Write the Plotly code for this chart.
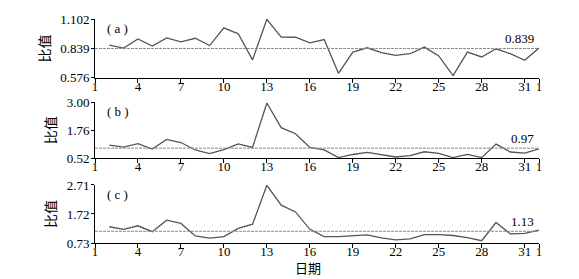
import plotly.graph_objects as go

days = list(range(2, 33))
tick_vals = [1, 4, 7, 10, 13, 16, 19, 22, 25, 28, 31, 32]
tick_text = ["1", "4", "7", "10", "13", "16", "19", "22", "25", "28", "31", "1"]

ratio_a = [0.869, 0.842, 0.924, 0.860, 0.933, 0.898, 0.930, 0.865, 1.023, 0.970, 0.737,
           1.099, 0.940, 0.939, 0.889, 0.918, 0.617, 0.807, 0.845, 0.801, 0.778, 0.792,
           0.851, 0.772, 0.597, 0.807, 0.763, 0.836, 0.792, 0.734, 0.842]
ratio_b = [1.10, 1.02, 1.17, 0.93, 1.36, 1.22, 0.89, 0.725, 0.91, 1.16, 1.00,
           2.97, 1.88, 1.61, 1.00, 0.89, 0.55, 0.69, 0.78, 0.67, 0.58, 0.64,
           0.81, 0.74, 0.55, 0.69, 0.55, 1.15, 0.80, 0.75, 0.94]
ratio_c = [1.284, 1.196, 1.317, 1.117, 1.508, 1.397, 0.973, 0.896, 0.950, 1.230, 1.370,
           2.70, 2.02, 1.79, 1.196, 0.950, 0.950, 0.986, 1.006, 0.906, 0.840, 0.870,
           1.017, 1.017, 0.986, 0.917, 0.810, 1.430, 1.040, 1.060, 1.170]

means = [0.839, 0.97, 1.13]
mean_labels = ["0.839", "0.97", "1.13"]
y_ticks = [[0.576, 0.839, 1.102], [0.52, 1.76, 3.00], [0.73, 1.72, 2.71]]
y_tick_text = [["0.576", "0.839", "1.102"], ["0.52", "1.76", "3.00"], ["0.73", "1.72", "2.71"]]
panel_labels = ["( a )", "( b )", "( c )"]
series = [ratio_a, ratio_b, ratio_c]

FONT = "Liberation Serif, Times New Roman, Noto Sans CJK SC, serif"
domains = [[0.737, 1.0], [0.378, 0.628], [0.0, 0.259]]

fig = go.Figure()
layout_axes = {}
for i in range(3):
    n = "" if i == 0 else str(i + 1)
    fig.add_trace(go.Scatter(x=days, y=series[i], mode="lines", xaxis="x" + n, yaxis="y" + n,
                             line=dict(color="#555555", width=1.3),
                             showlegend=False, hoverinfo="skip"))
    fig.add_trace(go.Scatter(x=[1, 32], y=[means[i], means[i]], mode="lines",
                             xaxis="x" + n, yaxis="y" + n,
                             line=dict(color="#888888", width=1, dash="3px,1px"),
                             showlegend=False, hoverinfo="skip"))
    layout_axes["xaxis" + n] = dict(
        range=[1, 32], tickvals=tick_vals, ticktext=tick_text, anchor="y" + n,
        domain=[0, 1], showline=True, linecolor="black", linewidth=1,
        ticks="outside", ticklen=4, tickcolor="black", ticklabelstandoff=-8,
        showgrid=False, zeroline=False, fixedrange=True)
    layout_axes["yaxis" + n] = dict(
        range=[y_ticks[i][0], y_ticks[i][2]], tickvals=y_ticks[i], ticktext=y_tick_text[i],
        domain=domains[i], anchor="x" + n, showline=True, linecolor="black", linewidth=1,
        ticks="outside", ticklen=3, tickcolor="black", ticklabelstandoff=-1,
        showgrid=False, zeroline=False, fixedrange=True,
        title=dict(text="比值", font=dict(size=14, family=FONT), standoff=6))
    fig.add_annotation(x=1.7, y=y_ticks[i][2], xref="x" + n, yref="y" + n,
                       text=panel_labels[i], showarrow=False,
                       xanchor="left", yanchor="top",
                       font=dict(size=13, family=FONT, color="black"))
    fig.add_annotation(x=31.8, y=means[i], xref="x" + n, yref="y" + n,
                       text=mean_labels[i], showarrow=False,
                       xanchor="right", yanchor="bottom",
                       font=dict(size=13, family=FONT, color="black"))

fig.add_annotation(x=0.48, y=-0.115, xref="paper", yref="paper",
                   text="日期", showarrow=False, xanchor="center", yanchor="middle",
                   font=dict(size=13, family=FONT, color="black"))

fig.update_layout(width=579, height=279,
                  margin=dict(l=95, r=40, t=15, b=36),
                  plot_bgcolor="white", paper_bgcolor="white",
                  font=dict(family=FONT, size=13, color="black"),
                  **layout_axes)

fig.write_html("out.html", config={"displayModeBar": False},
               post_script="document.body.style.margin='0';document.body.style.overflow='hidden';")
